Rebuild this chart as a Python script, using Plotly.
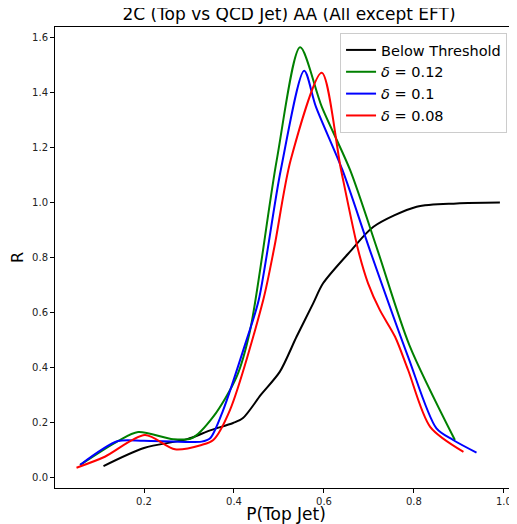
import plotly.graph_objects as go

# Below Threshold curve
black_x = [0.11, 0.2, 0.296, 0.347, 0.398, 0.42, 0.46, 0.502, 0.539, 0.576, 0.598, 0.661, 0.71, 0.806, 0.895, 0.991]
black_y = [0.04, 0.106, 0.138, 0.17, 0.197, 0.215, 0.3, 0.384, 0.511, 0.633, 0.706, 0.827, 0.912, 0.985, 0.997, 1.0]

# delta = 0.12
green_x = [0.058, 0.142, 0.187, 0.265, 0.307, 0.354, 0.406, 0.436, 0.495, 0.547, 0.595, 0.658, 0.719, 0.79, 0.891]
green_y = [0.044, 0.131, 0.164, 0.138, 0.142, 0.22, 0.366, 0.536, 1.155, 1.566, 1.35, 1.119, 0.827, 0.48, 0.135]

# delta = 0.1
blue_x = [0.058, 0.142, 0.2, 0.328, 0.347, 0.376, 0.428, 0.455, 0.504, 0.556, 0.582, 0.641, 0.702, 0.787, 0.85, 0.887, 0.939]
blue_y = [0.044, 0.131, 0.132, 0.129, 0.141, 0.244, 0.5, 0.645, 1.119, 1.481, 1.35, 1.119, 0.827, 0.438, 0.177, 0.135, 0.089]

# delta = 0.08
red_x = [0.05, 0.113, 0.202, 0.269, 0.328, 0.354, 0.391, 0.465, 0.49, 0.526, 0.595, 0.638, 0.676, 0.698, 0.724, 0.758, 0.787, 0.836, 0.91]
red_y = [0.034, 0.074, 0.153, 0.101, 0.117, 0.135, 0.244, 0.645, 0.84, 1.155, 1.473, 1.119, 0.827, 0.706, 0.609, 0.511, 0.39, 0.183, 0.092]

series = [
    ("Below Threshold", black_x, black_y, "black"),
    ("<i>δ</i> = 0.12", green_x, green_y, "green"),
    ("<i>δ</i> = 0.1", blue_x, blue_y, "blue"),
    ("<i>δ</i> = 0.08", red_x, red_y, "red"),
]

fig = go.Figure()
for name, xs, ys, col in series:
    fig.add_trace(go.Scatter(
        x=xs, y=ys, mode="lines", name=name,
        line=dict(color=col, width=2, shape="spline", smoothing=0.8),
    ))

axis_common = dict(
    showline=True, linecolor="black", linewidth=1,
    ticks="outside", ticklen=4, tickcolor="black",
    showgrid=False, zeroline=False, automargin=False,
    tickfont=dict(size=10, color="#222"),
)

# page body adds an 8px offset, so the figure is 8px smaller than the window
fig.update_layout(
    width=509, height=516,
    margin=dict(l=47, r=0, t=19, b=36),
    paper_bgcolor="white", plot_bgcolor="white",
    font=dict(family="DejaVu Sans", color="black"),
    title=dict(text="2C (Top vs QCD Jet) AA (All except EFT)", automargin=False,
               font=dict(size=17), x=0.552, xanchor="center", y=1.0, yanchor="top",
               pad=dict(t=0)),
    xaxis=dict(range=[0.0022, 1.029], tickvals=[0.2, 0.4, 0.6, 0.8, 1.0],
               tickformat=".1f", mirror=True,
               title=dict(text="P(Top Jet)", font=dict(size=17), standoff=10),
               **axis_common),
    yaxis=dict(range=[-0.04, 1.64], tickvals=[0, 0.2, 0.4, 0.6, 0.8, 1.0, 1.2, 1.4, 1.6],
               tickformat=".1f",
               title=dict(text="R", font=dict(size=16), standoff=8),
               **axis_common),
    legend=dict(x=0.617, xanchor="left", y=0.987, yanchor="top",
                bgcolor="rgba(255,255,255,0.8)", bordercolor="#cccccc", borderwidth=1,
                font=dict(size=14.5), tracegroupgap=0),
    showlegend=True,
)

fig.write_html("out.html")
